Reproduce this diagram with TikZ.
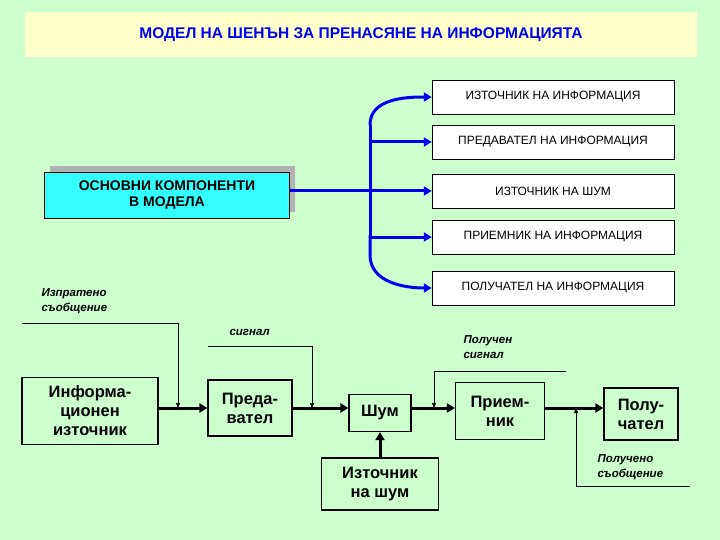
\documentclass[tikz,border=0pt]{standalone}
\usepackage{fontspec}
\setmainfont{Liberation Sans}
\usetikzlibrary{arrows.meta}
\definecolor{bg}{HTML}{CCFFCC}
\definecolor{ttl}{HTML}{FFFFCC}
\definecolor{cy}{HTML}{33FFFF}
\definecolor{bl}{HTML}{0000EE}
\begin{document}
\begin{tikzpicture}[x=1pt,y=-1pt,
 rb/.style={draw=black,fill=white,minimum width=242pt,minimum height=34pt,font=\fontsize{12}{14}\selectfont},
 bb/.style={draw=black,line width=1.2pt,fill=bg,align=center,inner sep=1pt,font=\bfseries\fontsize{16.5}{19}\selectfont},
 lb/.style={font=\bfseries\itshape\fontsize{11.5}{15}\selectfont,align=left,anchor=north west},
 ba/.style={draw=bl,line width=3pt,-{Triangle[length=8pt,width=9pt]}},
 ka/.style={line width=3pt,-{Triangle[length=8pt,width=9pt]}},
 ta/.style={line width=0.6pt,-{Triangle[length=5pt,width=4pt]}}]
\fill[bg] (0,0) rectangle (720,540);
\useasboundingbox (0,0) rectangle (720,540);
\node[fill=ttl,minimum width=672pt,minimum height=45pt,text=bl,font=\bfseries\fontsize{15.5}{18}\selectfont] (t) at (361,35) {МОДЕЛ НА ШЕНЪН ЗА ПРЕНАСЯНЕ НА ИНФОРМАЦИЯТА};
% right boxes
\node[rb] (r1) at (553,97) {ИЗТОЧНИК НА ИНФОРМАЦИЯ};
\node[rb] (r2) at (553,142) {ПРЕДАВАТЕЛ НА ИНФОРМАЦИЯ};
\node[rb] (r3) at (553,191) {ИЗТОЧНИК НА ШУМ};
\node[rb] (r4) at (553,237) {ПРИЕМНИК НА ИНФОРМАЦИЯ};
\node[rb] (r5) at (553,288) {ПОЛУЧАТЕЛ НА ИНФОРМАЦИЯ};
\fill[gray!60] (50,166) rectangle (295,212);
\node[draw=black,fill=cy,minimum width=245pt,minimum height=46pt,align=center,font=\bfseries\fontsize{14}{16}\selectfont] (m) at (167,195) {ОСНОВНИ КОМПОНЕНТИ\\В МОДЕЛА};
\coordinate (bus) at (370,191);
\draw[bl,line width=3pt] (m.east|-bus) -- (bus);
\draw[ba] (370,125) to[out=90,in=180] (r1.west);
\draw[ba] (370,125) -- (370,142) -- (r2.west);
\draw[ba] (370,140) -- (bus) -- (r3.west);
\draw[ba] (bus) -- (370,237) -- (r4.west);
\draw[ba] (370,235) -- (370,255) to[out=-90,in=180] (r5.west);
% bottom
\node[bb,minimum width=136pt,minimum height=67pt] (a) at (90,411) {Информа-\\ционен\\източник};
\node[bb,minimum width=84pt,minimum height=56pt] (b) at (250,408) {Преда-\\вател};
\node[bb,minimum width=62pt,minimum height=37pt] (c) at (380,413) {Шум};
\node[bb,minimum width=117pt,minimum height=52pt] (n) at (380,484) {Източник\\на шум};
\node[bb,minimum width=89pt,minimum height=57pt] (d) at (500,411) {Прием-\\ник};
\node[bb,minimum width=74pt,minimum height=52pt] (e) at (641,414) {Полу-\\чател};
\draw[ka] (a.east|-0,408) -- (b.west|-0,408);
\draw[ka] (b.east|-0,408) -- (c.west|-0,408);
\draw[ka] (c.east|-0,408) -- (d.west|-0,408);
\draw[ka] (d.east|-0,408) -- (e.west|-0,408);
\draw[ka] (n.north) -- (c.south);
\node[lb] (l1) at (38,285) {Изпратено\\съобщение};
\node[lb] (l2) at (226,326) {сигнал};
\node[lb] (l3) at (460,332) {Получен\\сигнал};
\node[lb] (l4) at (594,451) {Получено\\съобщение};
\coordinate (p1) at (22,323); \coordinate (q1) at (178,408);
\draw[ta] (p1) -| (q1);
\coordinate (p2) at (208,346); \coordinate (q2) at (312,408);
\draw[ta] (p2) -| (q2);
\coordinate (p3) at (566,371); \coordinate (q3) at (434,408);
\draw[ta] (p3) -| (q3);
\coordinate (p4) at (690,486); \coordinate (q4) at (576,408);
\draw[ta] (p4) -| (q4);
\end{tikzpicture}
\end{document}
